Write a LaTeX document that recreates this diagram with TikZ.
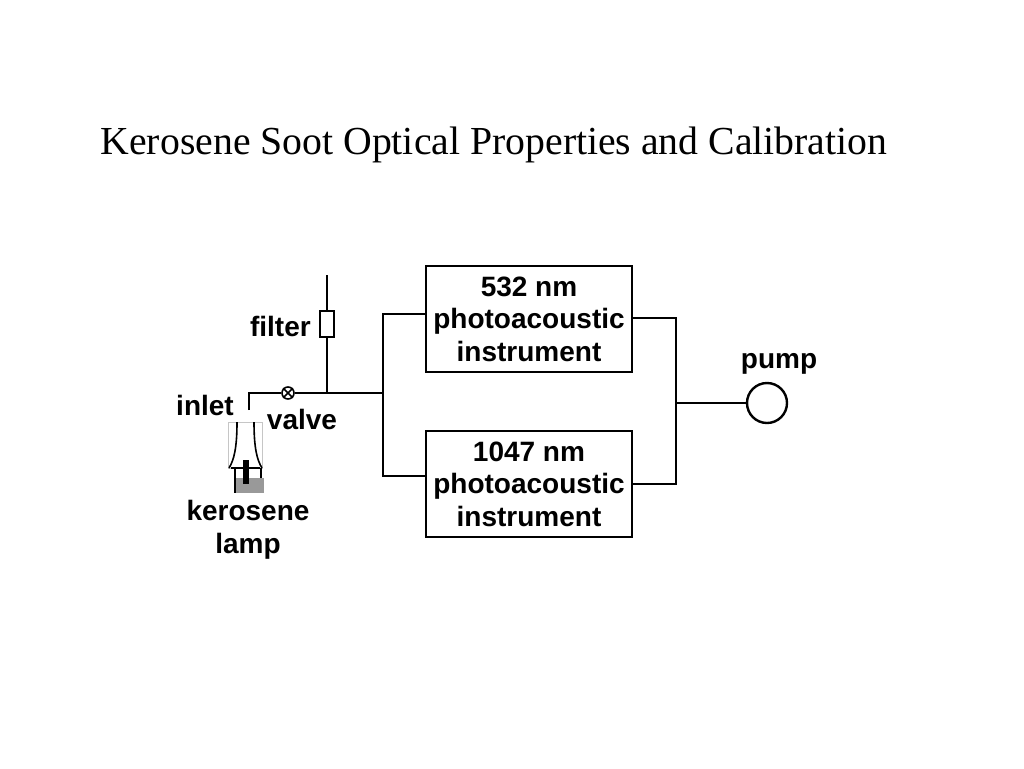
\documentclass[tikz,border=0pt]{standalone}
\usepackage{fontspec}
\setmainfont{Liberation Serif}
\newfontfamily\labelfont{Liberation Sans}
\usetikzlibrary{positioning}

\tikzset{
    pipe/.style={line width=1.8pt},
    instrument/.style={draw, line width=1.8pt, minimum width=154.5pt, minimum height=79.5pt,
        align=center, inner sep=0pt, font=\labelfont\bfseries\fontsize{21}{24.4}\selectfont},
    lbl/.style={font=\labelfont\bfseries\fontsize{21}{24.4}\selectfont, inner sep=0pt, align=center}
}

\begin{document}
\begin{tikzpicture}[x=0.75pt, y=-0.75pt]
    \useasboundingbox (0,0) rectangle (1024,768);
    \node[font=\fontsize{29.8}{36}\selectfont] (title) at (494,145) {Kerosene Soot Optical Properties and Calibration};

    \node[instrument] (box532) at (529,319) {532 nm\\photoacoustic\\instrument};
    \node[instrument] (box1047) at (529,484) {1047 nm\\photoacoustic\\instrument};
    \node[draw, circle, line width=1.8pt, minimum size=30pt, inner sep=0pt] (pump) at (767,403) {};
    \node[lbl] (pumplbl) at (779,364) {pump};

    \node[draw, circle, line width=1.2pt, minimum size=9pt, inner sep=0pt] (valve) at (288,393) {};
    \draw[line width=1.2pt] (valve.north west) -- (valve.south east) (valve.north east) -- (valve.south west);
    \node[draw, line width=1.4pt, minimum width=11pt, minimum height=20pt, inner sep=0pt] (filter) at (327,324) {};

    \coordinate (top) at (327,275);
    \coordinate (inlet) at (249,410);
    \coordinate (tee) at (327,393);
    \coordinate (split) at (383,393);
    \coordinate (merge) at (676,403);

    \draw[pipe] (top) -- (filter.north);
    \draw[pipe] (filter.south) -- (tee);
    \draw[pipe] (inlet) |- (valve.west);
    \draw[pipe] (valve.east) -- (split);
    \draw[pipe] ([yshift=3.75pt]box532.west) -| (split) |- ([yshift=6pt]box1047.west);
    \draw[pipe] ([yshift=0.75pt]box532.east) -| (merge) |- (box1047.east);
    \draw[pipe] (merge) -- (pump.west);

    \node[lbl, anchor=east] (filterlbl) at (311,326) {filter};
    \node[lbl] (inletlbl) at (205,405) {inlet};
    \node[lbl] (valvelbl) at (302,419) {valve};
    \node[lbl] (lamplbl) at (248,530) {kerosene\\lamp};

    \draw[gray!45, line width=0.6pt] (228,422) rectangle (262,468);
    \draw[line width=1.2pt] (237,422) .. controls (237,448) and (234,460) .. (229,468);
    \draw[line width=1.2pt] (254,422) .. controls (254,448) and (257,460) .. (262,468);
    \fill[gray!80] (236,478) rectangle (264,493);
    \draw[line width=1.2pt] (231,468) -- (260,468);
    \draw[line width=1.2pt] (235,468) -- (235,493);
    \draw[line width=1.2pt] (261,468) -- (261,478);
    \fill (243,460) rectangle (249,484);
\end{tikzpicture}
\end{document}
